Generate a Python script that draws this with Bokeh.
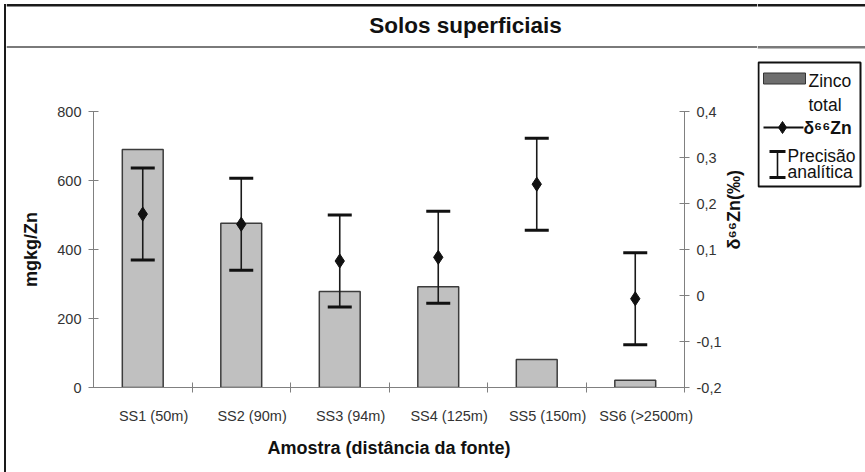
import math

from bokeh.plotting import figure
from bokeh.layouts import row, column
from bokeh.models import (ColumnDataSource, Range1d, LinearAxis, FixedTicker,
                          CustomJSTickFormatter, Whisker, TeeHead)
from bokeh.core.properties import value
from bokeh.embed import file_html
from bokeh.resources import INLINE

# --- data -------------------------------------------------------------
samples = ["SS1 (50m)", "SS2 (90m)", "SS3 (94m)", "SS4 (125m)", "SS5 (150m)", "SS6 (>2500m)"]
zinc_total = [690, 476, 278, 292, 81, 21]                  # mg/kg Zn
delta66_zn = [0.177, 0.155, 0.075, 0.083, 0.242, -0.007]   # permil
precision = [0.10, 0.10, 0.10, 0.10, 0.10, 0.10]           # analytical precision (+/-)
zn_ticks = [0, 200, 400, 600, 800]
delta_ticks = [-0.2, -0.1, 0.0, 0.1, 0.2, 0.3, 0.4]

FONT = "Liberation Sans"
INK = "#111111"
AX = "#808080"
TICK_TXT = "#333333"
FRAME = "#1a1a1a"
RULE = "#7a7a7a"


def blank(width, height, x0, x1, y_top, y_bottom):
    """A figure whose frame fills the whole canvas, in page pixel units."""
    f = figure(width=width, height=height, output_backend="svg",
               toolbar_location=None, x_axis_location=None, y_axis_location=None,
               x_range=Range1d(x0, x1), y_range=Range1d(y_bottom, y_top),
               min_border=0, outline_line_color=None,
               background_fill_color="white", border_fill_color="white")
    f.grid.visible = False
    return f


def put_text(f, x, y, text, size="17.5px", style="normal", align="left"):
    f.text(x=[x], y=[y], text=[text], text_font=value(FONT),
           text_font_size=size, text_font_style=style, text_align=align,
           text_baseline="middle", text_color=INK)


# --- left border strip ------------------------------------------------
strip = blank(6, 472, 0, 6, 0, 472)
strip.quad(left=[3.5], right=[6], top=[3.5], bottom=[472],
           fill_color=FRAME, line_color=None)

# --- title band -------------------------------------------------------
header = blank(751, 48, 6, 757, 0, 48)
header.quad(left=[6], right=[757], top=[3.5], bottom=[6],
            fill_color=FRAME, line_color=None)
header.quad(left=[6], right=[757], top=[45.5], bottom=[48],
            fill_color=RULE, line_color=None)
put_text(header, 465, 25, "Solos superficiais", size="22.5px", style="bold",
         align="center")

# --- main chart -------------------------------------------------------
pos = [i + 1 for i in range(len(samples))]
source = ColumnDataSource(dict(
    pos=pos,
    zn=zinc_total,
    d=delta66_zn,
    upper=[d + e for d, e in zip(delta66_zn, precision)],
    lower=[d - e for d, e in zip(delta66_zn, precision)],
))

p = figure(width=751, height=424, output_backend="svg", toolbar_location=None,
           x_range=Range1d(0.5, len(samples) + 0.5), y_range=Range1d(0, 800),
           min_border_left=87, min_border_right=70, min_border_top=63,
           min_border_bottom=85, outline_line_color=None,
           background_fill_color="white", border_fill_color="white")
p.xgrid.visible = False
p.ygrid.visible = False
p.extra_y_ranges = {"d": Range1d(-0.2, 0.4)}

# x axis: labels under each sample, tick marks between samples
label_shift = 0.11
xa = p.xaxis[0]
xa.ticker = FixedTicker(ticks=[x + label_shift for x in pos],
                        minor_ticks=[x + 0.5 for x in pos])
xa.major_label_overrides = {x + label_shift: s for x, s in zip(pos, samples)}
xa.major_tick_line_color = None
xa.minor_tick_in = 5
xa.minor_tick_out = 5
xa.minor_tick_line_color = AX
xa.axis_line_color = AX
xa.major_label_text_font = FONT
xa.major_label_text_font_size = "14.5px"
xa.major_label_text_color = TICK_TXT
xa.major_label_standoff = 14
xa.axis_label = "Amostra (distância da fonte)"
xa.axis_label_text_font = FONT
xa.axis_label_text_font_style = "bold"
xa.axis_label_text_font_size = "18px"
xa.axis_label_text_color = INK
xa.axis_label_standoff = 11

# left axis: total zinc
ya = p.yaxis[0]
ya.ticker = FixedTicker(ticks=zn_ticks)
ya.major_tick_in = 5
ya.major_tick_out = 5
ya.minor_tick_line_color = None
ya.major_tick_line_color = AX
ya.axis_line_color = AX
ya.major_label_text_font = FONT
ya.major_label_text_font_size = "14.5px"
ya.major_label_text_color = TICK_TXT
ya.major_label_standoff = 7
ya.axis_label = "mgkg/Zn"
ya.axis_label_text_font = FONT
ya.axis_label_text_font_style = "bold"
ya.axis_label_text_font_size = "18px"
ya.axis_label_text_color = INK
ya.axis_label_standoff = 13

# right axis: delta 66 Zn
ra = LinearAxis(y_range_name="d", ticker=FixedTicker(ticks=delta_ticks))
ra.formatter = CustomJSTickFormatter(
    code="return Math.abs(tick) < 1e-9 ? '0' : tick.toFixed(1).replace('.', ',');")
ra.major_tick_in = 5
ra.major_tick_out = 5
ra.minor_tick_line_color = None
ra.major_tick_line_color = AX
ra.axis_line_color = AX
ra.major_label_text_font = FONT
ra.major_label_text_font_size = "14.5px"
ra.major_label_text_color = TICK_TXT
ra.major_label_standoff = 7
ra.axis_label = "δ⁶⁶Zn(‰)"
ra.axis_label_text_font = FONT
ra.axis_label_text_font_style = "bold"
ra.axis_label_text_font_size = "18px"
ra.axis_label_text_color = INK
ra.axis_label_standoff = 10
if "axis_label_orientation" in ra.properties():
    ra.axis_label_orientation = math.pi / 2
p.add_layout(ra, "right")

# bars: total zinc
p.vbar(x="pos", top="zn", width=0.415, source=source,
       fill_color="#c0c0c0", line_color="#3c3c3c", line_width=1.5)

# error bars and delta values
whisker = Whisker(source=source, base="pos", upper="upper", lower="lower",
                  y_range_name="d", line_color="#1a1a1a", line_width=1.6,
                  upper_head=TeeHead(size=24, line_width=3, line_color=INK),
                  lower_head=TeeHead(size=24, line_width=3, line_color=INK),
                  level="annotation")
p.add_layout(whisker)
p.scatter(x="pos", y="d", marker="diamond", size=14, color=INK,
          y_range_name="d", source=source, level="overlay")

# --- legend column (also carries the right end of the title band) -----
leg = blank(108, 472, 757, 865, 0, 472)
leg.quad(left=[757], right=[865], top=[3.5], bottom=[6],
         fill_color=FRAME, line_color=None)
leg.quad(left=[757], right=[865], top=[45.5], bottom=[48],
         fill_color=RULE, line_color=None)
leg.quad(left=[758], right=[860], top=[62], bottom=[186],
         fill_color="white", line_color=INK, line_width=2)
leg.quad(left=[763], right=[805], top=[72.5], bottom=[83.5],
         fill_color="#6e6e6e", line_color="#333333", line_width=1)
put_text(leg, 808, 80.5, "Zinco")
put_text(leg, 808, 104, "total")
leg.segment(x0=[763], y0=[127], x1=[803], y1=[127], line_color=INK, line_width=2)
leg.scatter(x=[782], y=[127], marker="diamond", size=12, color=INK)
put_text(leg, 803, 127, "δ⁶⁶Zn", style="bold")
leg.segment(x0=[777], y0=[151], x1=[777], y1=[177], line_color=INK, line_width=1.6)
leg.segment(x0=[769, 769], y0=[151, 177], x1=[785, 785], y1=[151, 177],
            line_color=INK, line_width=3)
put_text(leg, 787, 155.5, "Precisão")
put_text(leg, 787, 171, "analítica")

# the chart sits in its own row so that the other panels keep full-size frames
layout = row(strip, column(header, row(p)), leg)
open("out.html", "w").write(file_html(layout, INLINE))
